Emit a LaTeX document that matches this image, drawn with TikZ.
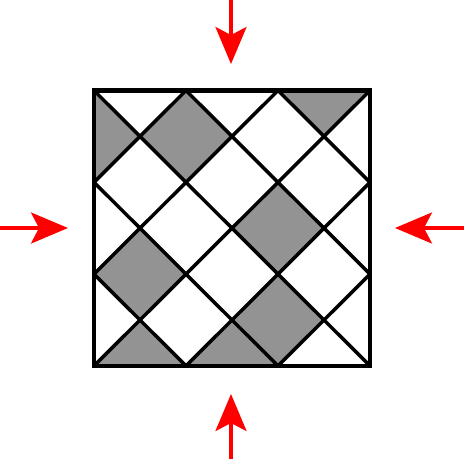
\documentclass[tikz,border=0pt]{standalone}
\usetikzlibrary{arrows.meta}
\definecolor{cellgray}{RGB}{147,147,147}
\tikzset{
  push/.style={draw=red, line width=3.2pt, -{Stealth[length=37pt,width=31pt,inset=8pt]}},
  grid line/.style={draw=black, line width=3.5pt},
  frame/.style={draw=black, line width=4.5pt, line join=miter},
  cell/.style={fill=cellgray, draw=none}
}
\begin{document}
\begin{tikzpicture}[x=1pt,y=-1pt]
\useasboundingbox (0,0) rectangle (464,459);
% arrows
\coordinate (ts) at (231,0);   \coordinate (te) at (231,64);
\coordinate (bs) at (231,459); \coordinate (be) at (231,394);
\coordinate (ls) at (0,228);   \coordinate (le) at (68,228);
\coordinate (rs) at (464,228); \coordinate (re) at (395,228);
\draw[push] (ts) -- (te);
\draw[push] (bs) -- (be);
\draw[push] (ls) -- (le);
\draw[push] (rs) -- (re);
% tiled square
\begin{scope}[shift={(94,90.5)}, x=46pt, y=-45.9pt]
  \begin{scope}
    \clip (0,0) rectangle (6,6);
    \foreach \cx/\cy in {0/1,2/1,5/0,4/3,1/4,4/5,1/6,3/6}{
      \fill[cell] (\cx,\cy-1) -- (\cx+1,\cy) -- (\cx,\cy+1) -- (\cx-1,\cy) -- cycle;
    }
    \foreach \c in {2,4,6,8,10}{
      \draw[grid line] (\c+1,-1) -- (\c-7,7);
    }
    \foreach \c in {-4,-2,0,2,4}{
      \draw[grid line] (\c-1,-1) -- (\c+7,7);
    }
  \end{scope}
  \draw[frame] (0,0) rectangle (6,6);
\end{scope}
\end{tikzpicture}
\end{document}
